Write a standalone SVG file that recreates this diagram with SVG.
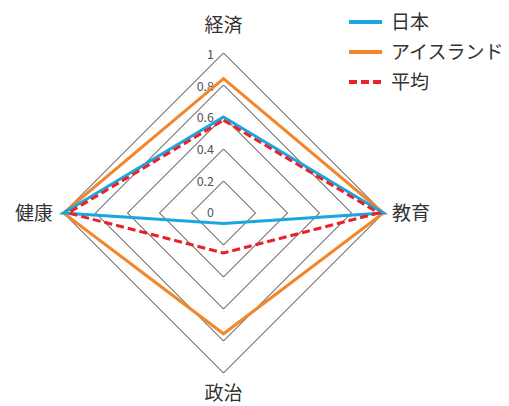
<svg xmlns="http://www.w3.org/2000/svg" width="509" height="406" viewBox="0 0 509 406">
<style>
.ring{fill:none;stroke:#333;stroke-width:1}
.tick{font-family:"Noto Sans CJK JP","Noto Sans",sans-serif;font-size:12.5px;fill:#555;text-anchor:end}
.lab{font-family:"Noto Sans CJK JP","Noto Sans",sans-serif;font-size:19px;fill:#333}
.s{fill:none;stroke-width:3;stroke-linejoin:miter}
.jp{stroke:#1AA7E1}
.is{stroke:#F4862A}
.av{stroke:#E8212A;stroke-dasharray:8 4}
.lg{stroke-width:4;fill:none}
</style>
<rect width="509" height="406" fill="#fff"/>
<g id="grid">
<polygon class="ring" points="223.5,181 255.5,213 223.5,245 191.5,213"/>
<polygon class="ring" points="223.5,149 287.5,213 223.5,277 159.5,213"/>
<polygon class="ring" points="223.5,117 319.5,213 223.5,309 127.5,213"/>
<polygon class="ring" points="223.5,85 351.5,213 223.5,341 95.5,213"/>
<polygon class="ring" points="223.5,53 383.5,213 223.5,373 63.5,213"/>
<text class="tick" x="214" y="217">0</text>
<text class="tick" x="214" y="186">0.2</text>
<text class="tick" x="214" y="154">0.4</text>
<text class="tick" x="214" y="122">0.6</text>
<text class="tick" x="214" y="91">0.8</text>
<text class="tick" x="214" y="59">1</text>
</g>
<g id="axis-labels">
<text id="keizai" class="lab" x="223.5" y="32" text-anchor="middle">経済</text>
<text id="kyoiku" class="lab" x="392" y="220">教育</text>
<text id="seiji" class="lab" x="223.5" y="400" text-anchor="middle">政治</text>
<text id="kenko" class="lab" x="53" y="220" text-anchor="end">健康</text>
</g>
<g id="connectors">
<polygon id="iceland" class="s is" points="223.5,78.6 383.5,213 223.5,333.8 63.5,213"/>
<polygon id="japan" class="s jp" points="223.5,117 383.5,213 223.5,223.4 63.5,213"/>
<polygon id="average" class="s av" points="223.5,120.2 378.7,213 223.5,253 68.3,213"/>
</g>
<g id="legend">
<line class="lg jp" x1="349" y1="22" x2="382" y2="22"/>
<text class="lab" x="391" y="29">日本</text>
<line class="lg is" x1="349" y1="52" x2="382" y2="52"/>
<text class="lab" x="391" y="59">アイスランド</text>
<line class="lg av" x1="349" y1="82" x2="382" y2="82" stroke-dasharray="8.5 4"/>
<text class="lab" x="391" y="89">平均</text>
</g>
</svg>
